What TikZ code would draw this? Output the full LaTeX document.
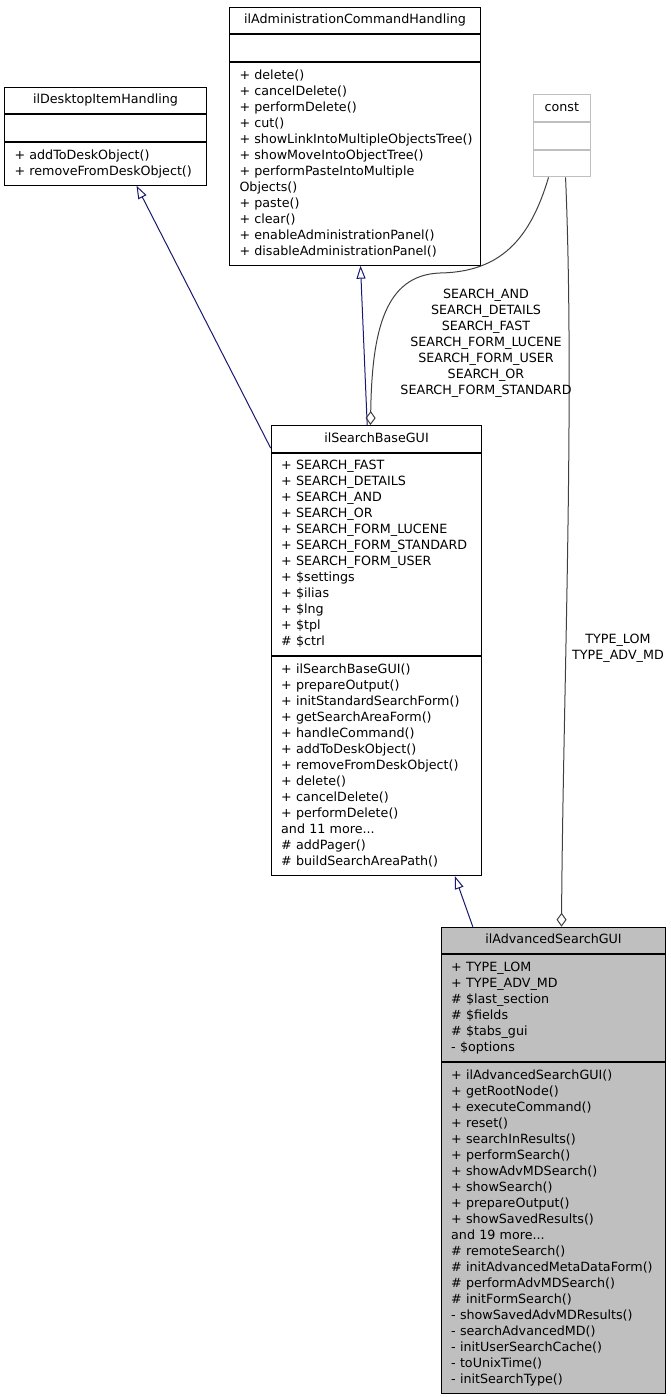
\documentclass[tikz,border=0pt]{standalone}
\usepackage{fontspec}
\setmainfont{DejaVu Sans}
\usetikzlibrary{positioning}
\usetikzlibrary{arrows.meta}
\definecolor{inhblue}{RGB}{25,25,112}
\definecolor{agggray}{RGB}{64,64,64}
\definecolor{boxgray}{RGB}{191,191,191}

\begin{document}
\begin{tikzpicture}[x=1pt,y=-1pt,
  every node/.style={font=\fontsize{12.7}{16}\selectfont},
  part/.style={draw,line width=1pt,inner xsep=10pt,inner ysep=5.33pt,text width=#1,
    execute at begin node=\strut,execute at end node=\strut},
  hdr/.style={part=#1,align=center,anchor=north west},
  sec/.style={part=#1,align=left},
  lbl/.style={align=center,inner sep=0pt,
    execute at begin node=\strut,execute at end node=\strut},
  inherit/.style={draw=inhblue,line width=1pt,-{Triangle[open,length=13pt,width=9pt]}},
  aggr/.style={draw=agggray,line width=1pt,-{Diamond[open,length=14pt,width=10pt]}}]
\useasboundingbox (0,0) rectangle (671,1397);

% parents
\node[hdr=182pt] (dih) at (4,86.7) {ilDesktopItemHandling};
\node[sec=182pt,below=0pt of dih] (dih-a) {};
\node[sec=182pt,below=0pt of dih-a] (dih-m) {+ addToDeskObject()\\+ removeFromDeskObject()};

\node[hdr=231pt] (ach) at (229,6.7) {ilAdministrationCommandHandling};
\node[sec=231pt,below=0pt of ach] (ach-a) {};
\node[sec=231pt,below=0pt of ach-a] (ach-m) {+ delete()\\+ cancelDelete()\\+ performDelete()\\+ cut()\\
  \mbox{+ showLinkIntoMultipleObjectsTree()}\\+ showMoveIntoObjectTree()\\+ performPasteIntoMultiple\\Objects()\\
  + paste()\\+ clear()\\+ enableAdministrationPanel()\\+ disableAdministrationPanel()};

\node[hdr=37.3pt,draw=boxgray] (cst) at (532.7,94.3) {const};
\node[sec=37.3pt,draw=boxgray,below=0pt of cst] (cst-a) {};
\node[sec=37.3pt,draw=boxgray,below=0pt of cst-a] (cst-m) {};

% base class
\node[hdr=190.6pt] (sbg) at (270.7,425) {ilSearchBaseGUI};
\node[sec=190.6pt,below=0pt of sbg] (sbg-a) {+ SEARCH\_FAST\\+ SEARCH\_DETAILS\\+ SEARCH\_AND\\+ SEARCH\_OR\\
  + SEARCH\_FORM\_LUCENE\\+ SEARCH\_FORM\_STANDARD\\+ SEARCH\_FORM\_USER\\+ \$settings\\+ \$ilias\\
  + \$lng\\+ \$tpl\\\# \$ctrl};
\node[sec=190.6pt,below=0pt of sbg-a] (sbg-m) {+ ilSearchBaseGUI()\\+ prepareOutput()\\+ initStandardSearchForm()\\
  + getSearchAreaForm()\\+ handleCommand()\\+ addToDeskObject()\\+ removeFromDeskObject()\\+ delete()\\
  + cancelDelete()\\+ performDelete()\\and 11 more...\\\# addPager()\\\# buildSearchAreaPath()};

% this class
\node[hdr=204.6pt,fill=boxgray] (asg) at (440.7,926.7) {ilAdvancedSearchGUI};
\node[sec=204.6pt,fill=boxgray,below=0pt of asg] (asg-a) {+ TYPE\_LOM\\+ TYPE\_ADV\_MD\\\# \$last\_section\\
  \# \$fields\\\# \$tabs\_gui\\- \$options};
\node[sec=204.6pt,fill=boxgray,below=0pt of asg-a] (asg-m) {+ ilAdvancedSearchGUI()\\+ getRootNode()\\
  + executeCommand()\\+ reset()\\+ searchInResults()\\+ performSearch()\\+ showAdvMDSearch()\\+ showSearch()\\
  + prepareOutput()\\+ showSavedResults()\\and 19 more...\\\# remoteSearch()\\\# initAdvancedMetaDataForm()\\
  \# performAdvMDSearch()\\\# initFormSearch()\\- showSavedAdvMDResults()\\- searchAdvancedMD()\\
  - initUserSearchCache()\\- toUnixTime()\\- initSearchType()};

% edges
\draw[inherit] ([yshift=-9.3pt]sbg.west) -- ([xshift=31pt]dih-m.south);
\draw[inherit] ([xshift=-9.3pt]sbg.north) -- ([xshift=5.5pt]ach-m.south);
\draw[inherit] ([xshift=-80.7pt]asg.north) -- ([xshift=78.3pt]sbg-m.south);
\draw[aggr] ([xshift=-13.3pt]cst-m.south) .. controls (530,240) and (500,272) .. (440,273)
  .. controls (385,275) and (372,330) .. ([xshift=-6pt]sbg.north);
\draw[aggr] ([xshift=3.7pt]cst-m.south) .. controls (575,400) and (563,700) .. ([xshift=8pt]asg.north);
\node[lbl] (lbl-search) at (486,343.7) {SEARCH\_AND\\SEARCH\_DETAILS\\SEARCH\_FAST\\SEARCH\_FORM\_LUCENE\\
  SEARCH\_FORM\_USER\\SEARCH\_OR\\SEARCH\_FORM\_STANDARD};
\node[lbl] (lbl-type) at (618,648.7) {TYPE\_LOM\\TYPE\_ADV\_MD};
\end{tikzpicture}
\end{document}
